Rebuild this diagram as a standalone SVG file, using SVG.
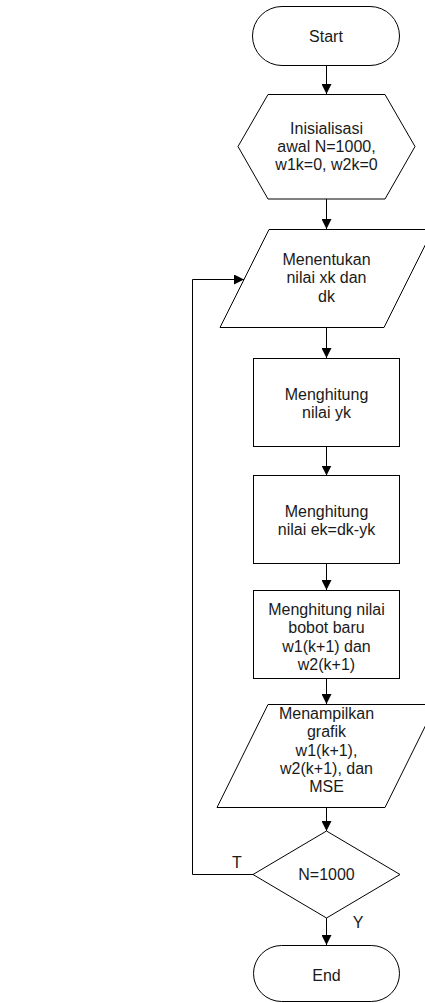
<svg xmlns="http://www.w3.org/2000/svg" width="425" height="1003" viewBox="0 0 425 1003">
<style>
.s{fill:#fff;stroke:#000;stroke-width:1}
.t{font-family:"Liberation Sans",Arial,sans-serif;font-size:16px;fill:#1a1a1a;text-anchor:middle}
.c{fill:none;stroke:#000;stroke-width:1}
</style>
<defs>
<marker id="ah" markerUnits="userSpaceOnUse" markerWidth="10" markerHeight="10" refX="10" refY="5" orient="auto">
<path d="M0,0 L10,5 L0,10 z" fill="#000"/>
</marker>
</defs>
<rect width="425" height="1003" fill="#fff"/>
<g id="connectors">
<path class="c" d="M326.5,65.5 V94" marker-end="url(#ah)"/>
<path class="c" d="M326.5,199 V229" marker-end="url(#ah)"/>
<path class="c" d="M326.5,327.5 V358" marker-end="url(#ah)"/>
<path class="c" d="M326.5,446.5 V475.5" marker-end="url(#ah)"/>
<path class="c" d="M326.5,563.5 V590" marker-end="url(#ah)"/>
<path class="c" d="M326.5,678.5 V704" marker-end="url(#ah)"/>
<path class="c" d="M326.5,807.5 V831" marker-end="url(#ah)"/>
<path class="c" d="M326.5,918 V945" marker-end="url(#ah)"/>
<path class="c" d="M253,874.5 H192.5 V279.5 H244" marker-end="url(#ah)"/>
<text class="t" x="237" y="868">T</text>
<text class="t" x="358" y="928">Y</text>
</g>
<g id="start">
<rect class="s" x="252.5" y="6.5" width="147" height="59" rx="29.5"/>
<text class="t" x="326" y="41.5">Start</text>
</g>
<g id="init">
<polygon class="s" points="268,94.5 385,94.5 415,146.5 385,199 268,199 238,146.5"/>
<text class="t" x="326.5" y="133.5">Inisialisasi</text>
<text class="t" x="326.5" y="151.5">awal N=1000,</text>
<text class="t" x="326.5" y="169.5">w1k=0, w2k=0</text>
</g>
<g id="input">
<polygon class="s" points="269,229.5 433,229.5 384,327.5 220,327.5"/>
<text class="t" x="326.5" y="265">Menentukan</text>
<text class="t" x="326.5" y="283.3">nilai xk dan</text>
<text class="t" x="326.5" y="301.6">dk</text>
</g>
<g id="yk">
<rect class="s" x="253.5" y="358.5" width="146" height="88"/>
<text class="t" x="326.5" y="400">Menghitung</text>
<text class="t" x="326.5" y="418.3">nilai yk</text>
</g>
<g id="ek">
<rect class="s" x="253.5" y="475.5" width="146" height="88"/>
<text class="t" x="326.5" y="517">Menghitung</text>
<text class="t" x="326.5" y="535.3">nilai ek=dk-yk</text>
</g>
<g id="bobot">
<rect class="s" x="253.5" y="590.5" width="146" height="88"/>
<text class="t" x="326.5" y="615">Menghitung nilai</text>
<text class="t" x="326.5" y="633.3">bobot baru</text>
<text class="t" x="326.5" y="651.6">w1(k+1) dan</text>
<text class="t" x="326.5" y="669.9">w2(k+1)</text>
</g>
<g id="output">
<polygon class="s" points="268,704.5 436,704.5 385,807.5 217,807.5"/>
<text class="t" x="326.5" y="719">Menampilkan</text>
<text class="t" x="326.5" y="737.3">grafik</text>
<text class="t" x="326.5" y="755.6">w1(k+1),</text>
<text class="t" x="326.5" y="773.9">w2(k+1), dan</text>
<text class="t" x="326.5" y="792.2">MSE</text>
</g>
<g id="decision">
<polygon class="s" points="326.5,831 400,874.5 326.5,918 253,874.5"/>
<text class="t" x="326.5" y="880">N=1000</text>
</g>
<g id="end">
<rect class="s" x="253.5" y="945.5" width="146" height="56" rx="28"/>
<text class="t" x="326.5" y="981">End</text>
</g>
</svg>
